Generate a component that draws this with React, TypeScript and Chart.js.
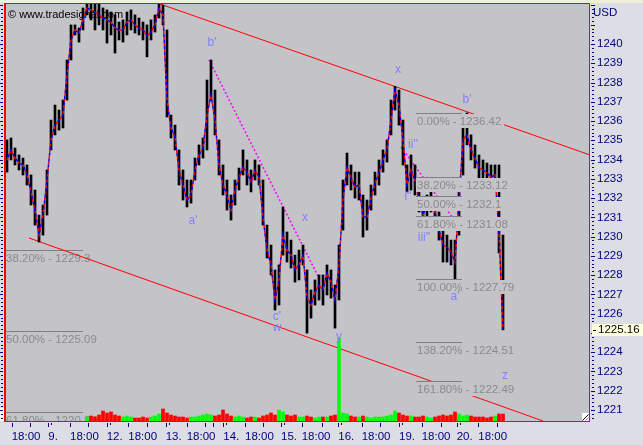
import React, { useEffect, useRef } from 'react';
import { Chart, registerables } from 'chart.js';

Chart.register(...registerables);

const NAVY = '#000080';
const PLOT_BG = '#C4C3C8';
const OUTER_BG = '#DDDDE5';
const AXIS_FONT = "'Liberation Sans', Arial, sans-serif";
const AXIS_SIZE = 11.5;
const TEXT_FONT = "'Liberation Sans', Arial, sans-serif";

const Y_MIN = 1220.4287;
const Y_MAX = 1242.0766;
const X_MIN = -0.5;
const X_MAX = 145.75;

// ---- price bars (index = bar number) ----
const closes = [
  1233.98, 1234.50, 1234.08, 1233.82, 1233.72, 1233.20, 1232.32, 1231.38, 1230.08, 1231.12,
  1232.94, 1235.02, 1235.79, 1236.05, 1236.31, 1238.39, 1240.21, 1240.73, 1240.57, 1241.25,
  1241.87, 1241.77, 1241.66, 1241.51, 1241.35, 1241.25, 1241.14, 1240.83, 1240.73, 1240.73,
  1241.14, 1241.25, 1240.99, 1240.83, 1240.73, 1240.42, 1240.62, 1240.99, 1241.87, 1241.51,
  1237.09, 1235.64, 1235.17, 1233.46, 1232.68, 1231.90, 1232.16, 1233.46, 1234.24, 1234.60,
  1236.31, 1237.35, 1236.05, 1233.72, 1232.68, 1232.16, 1231.38, 1232.42, 1233.04, 1233.61,
  1233.35, 1232.83, 1233.46, 1233.09, 1231.02, 1229.30, 1228.53, 1226.71, 1227.75, 1230.08,
  1229.30, 1229.04, 1228.27, 1228.53, 1229.04, 1226.86, 1226.45, 1227.12, 1227.49, 1227.23,
  1228.11, 1227.64, 1226.71, 1228.53, 1231.90, 1233.61, 1233.04, 1232.58, 1232.68, 1231.02,
  1231.02, 1232.00, 1232.78, 1233.30, 1233.98, 1234.50, 1236.05, 1237.61, 1236.83, 1235.02,
  1232.68, 1233.46, 1232.94, 1231.90, 1231.12, 1231.64, 1231.90, 1231.28, 1230.34, 1229.56,
  1229.46, 1229.20, 1228.68, 1231.90, 1235.02, 1235.28, 1234.50, 1234.08, 1233.56, 1233.46,
  1233.30, 1233.09, 1233.20, 1230.19, 1225.16,
];
const highs = [
  1235.02, 1235.12, 1234.60, 1234.24, 1234.08, 1233.72, 1233.20, 1232.42, 1231.12, 1231.64,
  1233.46, 1236.05, 1236.83, 1236.57, 1237.09, 1239.17, 1240.99, 1240.99, 1240.83, 1241.87,
  1242.08, 1242.08, 1242.08, 1242.08, 1241.87, 1241.77, 1241.66, 1241.51, 1241.14, 1241.25,
  1241.66, 1241.77, 1241.51, 1241.35, 1241.14, 1240.99, 1241.25, 1241.51, 1242.13, 1242.02,
  1240.73, 1236.31, 1235.79, 1234.50, 1233.46, 1232.94, 1232.94, 1234.08, 1234.76, 1235.12,
  1238.13, 1239.17, 1237.61, 1235.02, 1233.72, 1232.94, 1232.16, 1232.94, 1233.56, 1234.50,
  1233.98, 1233.46, 1233.98, 1233.72, 1232.94, 1230.60, 1229.56, 1228.27, 1228.53, 1231.54,
  1230.24, 1229.82, 1229.04, 1229.30, 1229.56, 1228.27, 1227.23, 1227.75, 1228.01, 1228.01,
  1228.53, 1228.27, 1227.49, 1229.56, 1232.94, 1234.34, 1233.72, 1233.35, 1233.35, 1232.16,
  1231.90, 1232.68, 1233.35, 1233.98, 1234.50, 1235.02, 1237.09, 1237.80, 1237.61, 1236.05,
  1233.72, 1234.24, 1233.72, 1232.68, 1231.90, 1232.16, 1232.42, 1231.90, 1231.28, 1230.45,
  1230.08, 1229.82, 1229.82, 1232.68, 1235.64, 1236.42, 1235.28, 1234.76, 1234.24, 1233.98,
  1233.82, 1233.72, 1233.72, 1233.72, 1230.08,
];
const lows = [
  1233.35, 1233.98, 1233.72, 1233.46, 1233.20, 1232.68, 1231.64, 1230.60, 1229.72, 1230.08,
  1231.12, 1234.50, 1235.28, 1235.53, 1235.64, 1237.09, 1239.17, 1240.47, 1240.10, 1240.73,
  1241.51, 1241.25, 1240.73, 1240.99, 1240.73, 1240.05, 1240.47, 1239.53, 1240.21, 1240.10,
  1240.47, 1240.73, 1240.57, 1240.47, 1240.21, 1239.33, 1240.21, 1240.62, 1241.35, 1240.99,
  1236.21, 1235.12, 1234.50, 1232.68, 1231.90, 1231.54, 1231.74, 1232.94, 1233.72, 1234.08,
  1234.50, 1237.09, 1235.28, 1233.20, 1232.16, 1231.38, 1230.86, 1231.64, 1232.42, 1233.20,
  1232.68, 1232.32, 1232.94, 1232.68, 1230.60, 1228.89, 1228.01, 1226.19, 1226.45, 1229.04,
  1228.68, 1228.37, 1227.64, 1227.75, 1228.53, 1224.99, 1225.77, 1226.45, 1226.71, 1226.45,
  1226.97, 1226.81, 1225.25, 1226.71, 1230.34, 1232.68, 1232.42, 1232.00, 1231.90, 1229.98,
  1230.34, 1231.38, 1232.16, 1232.68, 1233.35, 1233.87, 1235.28, 1236.57, 1235.79, 1233.72,
  1232.32, 1232.42, 1232.16, 1231.28, 1230.45, 1230.86, 1231.28, 1230.76, 1229.82, 1228.68,
  1228.68, 1228.53, 1227.79, 1230.08, 1233.20, 1234.76, 1233.98, 1233.56, 1233.04, 1232.94,
  1232.83, 1232.68, 1232.68, 1229.15, 1225.16,
];

// ---- volume (starts at bar VOL_START) ----
const VOL_START = 20;
const volumes = [
  40, 50, 40, 60, 100, 80, 90, 60, 50, 40,
  50, 40, 30, 30, 40, 30, 40, 50, 70, 120,
  80, 60, 50, 40, 40, 30, 40, 40, 50, 60,
  70, 60, 50, 60, 110, 70, 50, 40, 50, 40,
  30, 40, 40, 30, 50, 60, 80, 60, 110, 90,
  60, 50, 60, 40, 40, 50, 40, 30, 40, 40,
  40, 50, 60, 830, 80, 70, 50, 40, 40, 50,
  40, 30, 40, 40, 40, 50, 60, 100, 80, 60,
  50, 50, 40, 40, 50, 40, 30, 40, 50, 60,
  50, 60, 90, 70, 50, 60, 50, 40, 40, 40,
  30, 40, 50, 70, 70,
];

// ---- axes ----
const yTicks = [1221, 1222, 1223, 1224, 1225, 1226, 1227, 1228, 1229, 1230, 1231, 1232, 1233, 1234, 1235, 1236, 1237, 1238, 1239, 1240];
const xTickPos = [1.18, 10.33, 15.75, 24.93, 30.33, 39.68, 44.93, 54.08, 59.5, 68.5, 73.68, 82.83, 88.68, 98, 103.68, 112.43, 117.83];
const xTickLabels = ['18:00', '9.', '18:00', '12.', '18:00', '13.', '18:00', '14.', '18:00', '15.', '18:00', '16.', '18:00', '19.', '18:00', '20.', '18:00'];
const xMinorTicks = [5.75, 20.33, 34.93, 49.5, 51.58, 64.08, 78.68, 93.25, 108.43, 122.58];
const dayTicks = [10.33, 24.93, 39.68, 54.08, 68.5, 82.83, 98, 112.43];

// ---- drawn studies ----
const upperChannel = [{ x: 38.25, y: 1242.08 }, { x: 145.75, y: 1234.24 }];
const lowerChannel = [{ x: 5.5, y: 1229.93 }, { x: 134, y: 1220.43 }];
const magentaA = [{ x: 50.5, y: 1239.17 }, { x: 78, y: 1227.85 }];
const magentaB = [{ x: 98.5, y: 1234.65 }, { x: 112.25, y: 1230.75 }];

const fibLeftPct = ['38.20%', '50.00%', '61.80%'];
const fibLeftPrice = ['1229.3', '1225.09', '1220.87'];
const fibLeftRange = [-0.5, 19];
const fibRightPct = ['0.00%', '38.20%', '50.00%', '61.80%', '100.00%', '138.20%', '161.80%'];
const fibRightPrice = ['1236.42', '1233.12', '1232.1', '1231.08', '1227.79', '1224.51', '1222.49'];
const fibRightRange = [102.25, 113.75];

const waveText = ["b'", "a'", 'x', "c'", 'w', 'y', 'x', "b'", "ii''", "i''", "iii''", "a'", 'z'];
const waveX = [51.25, 46.5, 74.5, 67.5, 67.5, 83, 97.75, 115, 101.5, 100.25, 104.25, 112, 124.5];
const waveY = [1240.05, 1230.81, 1230.97, 1225.83, 1225.25, 1224.79, 1238.65, 1237.09, 1234.76, 1232.06, 1229.93, 1226.86, 1222.76];

const watermark = '\u00A9 www.tradesignal.com';

function clipArea(ctx: any, a: any) {
  ctx.beginPath();
  ctx.rect(a.left, a.top, a.right - a.left, a.bottom - a.top);
  ctx.clip();
}

function drawFib(chart: any, pcts: string[], prices: string[], range: number[]) {
  const { ctx, chartArea: a, scales } = chart;
  const xs = scales.x;
  const ys = scales.y;
  ctx.save();
  clipArea(ctx, a);
  ctx.font = `11.5px ${TEXT_FONT}`;
  ctx.textBaseline = 'alphabetic';
  ctx.textAlign = 'left';
  const x1 = Math.round(xs.getPixelForValue(range[0]));
  const x2 = Math.round(xs.getPixelForValue(range[1]));
  for (let k = 0; k < pcts.length; k++) {
    const py = Math.round(ys.getPixelForValue(Number(prices[k])));
    const txt = `${pcts[k]} - ${prices[k]}`;
    const w = ctx.measureText(txt).width;
    ctx.fillStyle = PLOT_BG;
    ctx.fillRect(x1, py + 1, Math.ceil(w) + 3, 14);
    ctx.fillStyle = '#808080';
    ctx.fillRect(x1, py, x2 - x1, 1);
    ctx.fillStyle = '#8A8A8A';
    ctx.fillText(txt, x1 + 1, py + 12);
  }
  ctx.restore();
}

const decoPlugin = {
  id: 'deco',
  beforeDraw(chart: any) {
    const { ctx, chartArea: a, width, height } = chart;
    ctx.save();
    ctx.fillStyle = OUTER_BG;
    ctx.fillRect(0, 0, width, height);
    ctx.fillStyle = '#F2EEDC';
    ctx.fillRect(0, 0, width, 3);
    ctx.fillStyle = PLOT_BG;
    ctx.fillRect(a.left, a.top, a.right - a.left, a.bottom - a.top);
    ctx.restore();
  },
  beforeDatasetsDraw(chart: any) {
    const { ctx, chartArea: a } = chart;
    ctx.save();
    clipArea(ctx, a);
    ctx.font = `11px ${TEXT_FONT}`;
    ctx.fillStyle = '#000000';
    ctx.textBaseline = 'alphabetic';
    ctx.textAlign = 'left';
    ctx.fillText(watermark, 8, 18);
    ctx.restore();
    drawFib(chart, fibLeftPct, fibLeftPrice, fibLeftRange);
  },
  afterDatasetDraw(chart: any, args: any) {
    const ds = chart.data.datasets[args.index];
    if (ds && ds.label === 'closeBlue') {
      drawFib(chart, fibRightPct, fibRightPrice, fibRightRange);
    }
  },
  afterDatasetsDraw(chart: any) {
    const { ctx, chartArea: a, scales } = chart;
    const xs = scales.x;
    const ys = scales.y;
    ctx.save();
    // wave labels
    ctx.save();
    clipArea(ctx, a);
    ctx.font = `12px ${TEXT_FONT}`;
    ctx.fillStyle = '#8080FF';
    ctx.textAlign = 'center';
    ctx.textBaseline = 'middle';
    for (let k = 0; k < waveText.length; k++) {
      ctx.fillText(waveText[k], xs.getPixelForValue(waveX[k]), ys.getPixelForValue(waveY[k]));
    }
    ctx.restore();

    // resize icon
    ctx.fillStyle = '#FFFFFF';
    ctx.fillRect(a.right - 8, a.bottom - 8, 7, 8);
    ctx.strokeStyle = '#000000';
    ctx.lineWidth = 1;
    ctx.beginPath();
    ctx.moveTo(a.right - 7.5, a.bottom - 0.5);
    ctx.lineTo(a.right - 1.5, a.bottom - 6.5);
    ctx.stroke();
    ctx.strokeStyle = '#808080';
    ctx.beginPath();
    ctx.moveTo(a.right - 4.5, a.bottom - 0.5);
    ctx.lineTo(a.right - 1.5, a.bottom - 3.5);
    ctx.stroke();

    // red frame
    ctx.fillStyle = '#FF0000';
    ctx.fillRect(a.left - 1, a.top - 1, 2, a.bottom - a.top + 2);
    ctx.fillRect(a.left - 1, a.top - 1, a.right - a.left + 1, 1);
    ctx.fillRect(a.right - 1, a.top - 1, 1, a.bottom - a.top + 2);
    ctx.fillRect(a.left - 1, a.bottom, a.right - a.left + 1, 1);

    // left marker
    ctx.fillStyle = '#FFFFE1';
    ctx.fillRect(0, 408, 4, 13);

    // y ticks (right + left)
    ctx.fillStyle = NAVY;
    for (let v = 1221; v <= 1242; v++) {
      const py = Math.round(ys.getPixelForValue(v));
      ctx.fillRect(a.right + 1, py, 4, 1);
      ctx.fillRect(0, py, 3, 1);
    }
    for (let k = Math.ceil(Y_MIN * 5); k <= Math.floor(Y_MAX * 5); k++) {
      if (k % 5 === 0) continue;
      const py = Math.round(ys.getPixelForValue(k / 5));
      ctx.fillRect(a.right + 2, py, 2, 1);
      ctx.fillRect(1, py, 2, 1);
    }
    // x ticks
    [...xTickPos, ...xMinorTicks].forEach((v) => {
      const px = Math.round(xs.getPixelForValue(v));
      ctx.fillRect(px, a.bottom + 2, 1, 4);
    });
    dayTicks.forEach((v) => {
      const px = Math.round(xs.getPixelForValue(v));
      ctx.fillRect(px + 3, a.bottom + 2, 1, 2);
    });

    // USD
    ctx.font = `${AXIS_SIZE}px ${AXIS_FONT}`;
    ctx.textAlign = 'left';
    ctx.textBaseline = 'middle';
    ctx.fillStyle = NAVY;
    ctx.fillText('USD', a.right + 3, 13);

    // last price box
    const lp = closes[closes.length - 1];
    const lpy = Math.round(ys.getPixelForValue(lp));
    ctx.fillStyle = '#FFFFE1';
    ctx.fillRect(a.right + 2, lpy - 6, 60, 12);
    ctx.fillStyle = '#000000';
    ctx.fillRect(a.right + 3, lpy, 3, 1);
    ctx.fillText(lp.toFixed(2), a.right + 8, lpy);
    ctx.restore();
  },
};

export default function App() {
  const canvasRef = useRef<HTMLCanvasElement | null>(null);

  useEffect(() => {
    const canvas = canvasRef.current;
    if (!canvas) return;

    const hl = highs.map((h, i) => ({ x: i, y: [lows[i], h] }));
    const cl = closes.map((c, i) => ({ x: i, y: c }));
    const vol = volumes.map((v, k) => ({ x: VOL_START + k, y: v }));
    const volColors = volumes.map((_, k) => {
      const i = VOL_START + k;
      return closes[i] >= closes[i - 1] ? '#00FF00' : '#FF0000';
    });

    const chart = new Chart(canvas, {
      type: 'line',
      data: {
        datasets: [
          { type: 'line', label: 'upper', data: upperChannel, borderColor: '#FF0000', borderWidth: 1, pointRadius: 0, order: 9, yAxisID: 'y' } as any,
          { type: 'line', label: 'lower', data: lowerChannel, borderColor: '#FF0000', borderWidth: 1, pointRadius: 0, order: 9, yAxisID: 'y' } as any,
          { type: 'line', label: 'magA', data: magentaA, borderColor: '#FF00FF', borderWidth: 1.5, borderDash: [2, 2], pointRadius: 0, order: 8, yAxisID: 'y' } as any,
          { type: 'line', label: 'magB', data: magentaB, borderColor: '#FF00FF', borderWidth: 1.5, borderDash: [2, 2], pointRadius: 0, order: 8, yAxisID: 'y' } as any,
          {
            type: 'bar', label: 'hl', data: hl, backgroundColor: '#000000', borderWidth: 0,
            grouped: false, maxBarThickness: 2, categoryPercentage: 1, barPercentage: 1, order: 7, yAxisID: 'y',
          } as any,
          { type: 'line', label: 'closeRed', data: cl, borderColor: '#FF0000', borderWidth: 1.5, borderDash: [3, 3], borderDashOffset: 0, pointRadius: 0, tension: 0, order: 6, yAxisID: 'y' } as any,
          { type: 'line', label: 'closeBlue', data: cl, borderColor: '#0000FF', borderWidth: 1.5, borderDash: [3, 3], borderDashOffset: 3, pointRadius: 0, tension: 0, order: 5, yAxisID: 'y' } as any,
          {
            type: 'bar', label: 'volume', data: vol, backgroundColor: volColors, borderWidth: 0,
            grouped: false, maxBarThickness: 3, categoryPercentage: 1, barPercentage: 1, order: 1, yAxisID: 'v',
          } as any,
        ],
      },
      options: {
        animation: false,
        responsive: false,
        maintainAspectRatio: false,
        devicePixelRatio: 1,
        events: [],
        layout: { padding: { left: 5, top: 4, right: 0, bottom: 0 } },
        plugins: { legend: { display: false }, tooltip: { enabled: false }, title: { display: false } },
        scales: {
          x: {
            type: 'linear', position: 'bottom', min: X_MIN, max: X_MAX, offset: false,
            grid: { display: false, drawTicks: false, offset: false }, border: { display: false },
            afterBuildTicks: (s: any) => { s.ticks = xTickPos.map((v) => ({ value: v })); },
            afterFit: (s: any) => { s.height = 24; s.paddingLeft = 0; s.paddingRight = 0; },
            ticks: {
              autoSkip: false, maxRotation: 0, minRotation: 0, align: 'start', padding: 9,
              color: NAVY, font: { family: AXIS_FONT, size: AXIS_SIZE },
              callback: (_v: any, idx: number) => xTickLabels[idx] ?? '',
            },
          } as any,
          y: {
            type: 'linear', position: 'right', min: Y_MIN, max: Y_MAX, offset: false,
            grid: { display: false, drawTicks: false }, border: { display: false },
            afterBuildTicks: (s: any) => { s.ticks = yTicks.map((v) => ({ value: v })); },
            afterFit: (s: any) => { s.width = 53; s.paddingTop = 0; s.paddingBottom = 0; },
            ticks: {
              padding: 7, color: NAVY, font: { family: AXIS_FONT, size: AXIS_SIZE },
              callback: (v: any) => String(v),
            },
          } as any,
          v: { type: 'linear', display: false, min: 0, max: 4170, position: 'left', offset: false } as any,
        },
      } as any,
      plugins: [decoPlugin as any],
    });

    return () => chart.destroy();
  }, []);

  return (
    <div style={{ position: 'fixed', left: 0, top: 0, width: 643, height: 445, background: OUTER_BG }}>
      <canvas ref={canvasRef} width={643} height={445} style={{ display: 'block', width: 643, height: 445 }} />
    </div>
  );
}
